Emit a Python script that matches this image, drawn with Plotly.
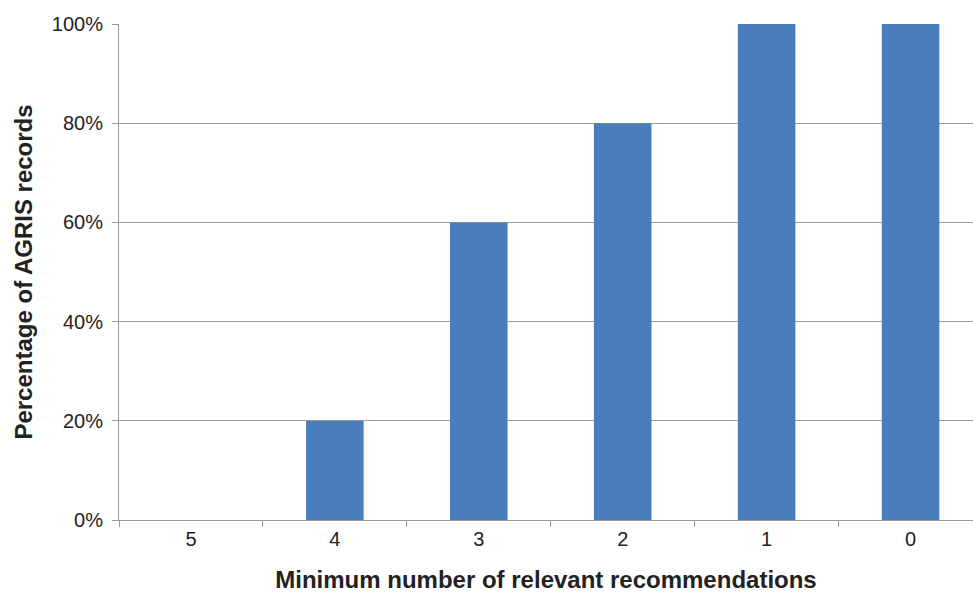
import plotly.graph_objects as go

categories = ["5", "4", "3", "2", "1", "0"]
values = [0, 20, 60, 80, 100, 100]
y_ticks = [0, 20, 40, 60, 80, 100]
y_tick_labels = ["0%", "20%", "40%", "60%", "80%", "100%"]

fig = go.Figure(go.Bar(
    x=categories, y=values,
    marker=dict(color="#4a7ebb", line=dict(width=0)),
    width=0.4,
))

font_family = "Liberation Sans, Arial, sans-serif"
fig.update_layout(
    width=973, height=594,
    margin=dict(l=119, r=0, t=24, b=74),
    paper_bgcolor="white", plot_bgcolor="white",
    showlegend=False,
    font=dict(family=font_family, color="#222222", size=20),
    xaxis=dict(
        type="category",
        range=[-0.5, 5.434],
        tickson="boundaries",
        ticks="outside", ticklen=6, tickcolor="#9a9a9a", tickwidth=1,
        showline=True, linecolor="#9a9a9a", linewidth=1,
        showgrid=False,
        tickfont=dict(size=20),
        ticklabelstandoff=1,
        title=dict(text="<b>Minimum number of relevant recommendations</b>",
                   font=dict(size=24), standoff=22),
    ),
    yaxis=dict(
        range=[0, 100],
        tickvals=y_ticks, ticktext=y_tick_labels,
        ticks="outside", ticklen=6, tickcolor="#9a9a9a", tickwidth=1,
        showline=True, linecolor="#9a9a9a", linewidth=1,
        showgrid=True, gridcolor="#a0a0a0", gridwidth=1,
        zeroline=False,
        tickfont=dict(size=20),
        ticklabelstandoff=5,
        title=dict(text="<b>Percentage of AGRIS records</b>",
                   font=dict(size=24), standoff=12),
    ),
)

fig.write_html("out.html")
